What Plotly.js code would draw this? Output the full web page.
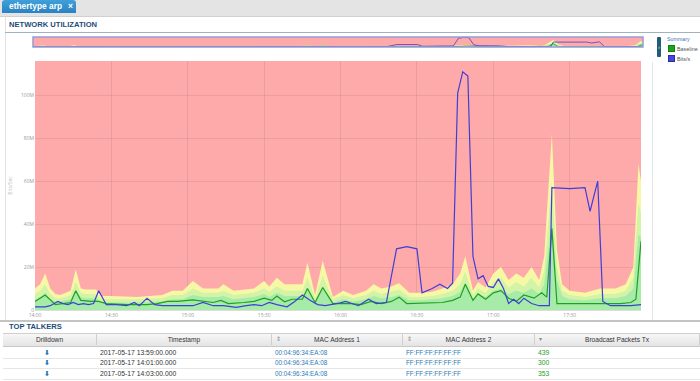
<!DOCTYPE html>
<html>
<head>
<meta charset="utf-8">
<script src="https://cdn.plot.ly/plotly-3.0.1.min.js"></script>
<style>
  html,body{margin:0;padding:0;width:700px;height:381px;overflow:hidden;background:#fff;font-family:"Liberation Sans",Arial,sans-serif;}
  #chart{position:absolute;left:0;top:0;width:700px;height:381px;}
  .abs{position:absolute;white-space:nowrap;}
  #topbar{left:0;top:0;width:700px;height:16px;background:#e4e4e4;border-bottom:1px solid #d0d0d0;}
  #tab{left:2px;top:0px;width:74px;height:13px;background:linear-gradient(#40a0da,#2a82bf);border-radius:3px 3px 0 0;color:#fff;font-weight:bold;font-size:8.4px;line-height:12px;}
  .hdr{font-weight:bold;font-size:7.6px;color:#1c4e78;}
  .th{position:absolute;top:334px;height:11px;line-height:11px;font-size:6.6px;color:#333;text-align:center;border-right:1px solid #cfcfcf;box-sizing:border-box;}
  .td{position:absolute;font-size:6.8px;line-height:10px;}
  .sort{position:absolute;font-size:6px;color:#888;line-height:11px;}
</style>
</head>
<body>
<div id="chart"></div>

<div id="topbar" class="abs"></div>
<div id="tab" class="abs"><span style="position:absolute;left:7px;">ethertype arp</span><span style="position:absolute;left:66px;">×</span></div>
<div class="abs" style="left:5px;top:17px;width:1px;height:304px;background:#e2e2e2;"></div>
<div class="abs hdr" style="left:9px;top:20px;">NETWORK UTILIZATION</div>
<div class="abs" style="left:5px;top:32px;width:695px;height:1px;background:#9fb2c2;"></div>

<!-- legend -->
<div class="abs" style="left:652px;top:62px;width:1px;height:258px;background:#e6e6e6;"></div>
<div class="abs" style="left:657px;top:37px;width:4px;height:20px;background:#1f5d78;border-radius:1px;color:#fff;font-size:5px;line-height:20px;text-align:center;">›</div>
<div class="abs" style="left:667px;top:36px;font-size:5.3px;color:#3f73b8;">Summary</div>
<div class="abs" style="left:668px;top:45px;width:5px;height:5px;background:#1aa51a;border:1px solid #118011;"></div>
<div class="abs" style="left:677px;top:45.5px;font-size:5.4px;color:#555;">Baseline</div>
<div class="abs" style="left:668px;top:55px;width:5px;height:5px;background:#4646dd;border:1px solid #2c2ca8;"></div>
<div class="abs" style="left:677px;top:55.5px;font-size:5.4px;color:#555;">Bits/s</div>

<!-- top talkers -->
<div class="abs" style="left:0px;top:320px;width:700px;height:2px;background:#c4c4c4;"></div>
<div class="abs hdr" style="left:9px;top:322px;">TOP TALKERS</div>
<div id="table"></div>

<script>
// ---------------- data (values in M bits/s) ----------------
const bandTimes = ['14:00','14:02','14:04','14:06','14:08','14:10','14:12','14:14','14:16','14:18','14:20',
  '14:24','14:26','14:30','14:40','14:50','14:54','14:58',
  '15:02','15:06','15:12','15:14','15:18','15:26','15:30','15:32','15:35','15:38','15:45','15:47','15:50','15:53','15:57',
  '16:01','16:05','16:10','16:13','16:16','16:20','16:23','16:27','16:32','16:36','16:40','16:44','16:47','16:49','16:52','16:54','16:57',
  '17:00','17:03','17:06','17:09','17:12','17:15','17:18','17:20','17:21','17:23','17:25','17:27','17:30','17:36','17:42','17:48','17:52','17:55','17:57','17:58'];
const bandUpper = [10,12,17,10,7.5,7,8,9,19,10,9.5,
  9.5,6.5,6.5,6,7,9,9,
  13.5,10,10,12,9,10,13.5,11,15,12,12,22,7,23,6,
  9,7,9,12,10,11,12.5,8,8,8.5,10,12,17,25,9,13,10.5,
  17,20,14,17,15,20,14,25,45,82,28,12,9,8,10,10,12,20,68,60];
const bandMid = [7.5,9,12,7.5,5.5,5.5,6,7,13,8,7.5,
  7.5,5,5,5,5.5,7,7,
  10,8,8,9,7,8,10,8.5,11,9,9,15,5.5,16,5,
  7,5.5,7,9,7.5,8.5,9.5,6,6,6.5,7.5,9,12,18,7,10,8,
  13,15,10.5,13,11,15,10.5,18,32,60,20,9,7,6,7.5,7.5,9,15,50,45];
const bandLower = [5,6,8,5,4,4,4.5,5,9,6,5.5,
  5.5,3.5,3.5,3.5,4,5,5,
  7,6,6,6.5,5,6,7.5,6,8,6.5,6.5,10,4,11,3.5,
  5,4,5,6.5,5.5,6,7,4.5,4.5,5,5.5,6.5,8.5,13,5,7,6,
  9,10,7.5,9,8,10,7.5,12,22,42,14,6.5,5,4.5,5.5,5.5,6.5,10,35,34];

const baselineTimes = ['14:00','14:04','14:08','14:12','14:14','14:16','14:18','14:22','14:25','14:28','14:36','14:44','14:48','14:52','14:56',
  '15:02','15:06','15:10','15:13','15:16','15:22','15:26','15:30','15:33','15:35','15:38','15:41','15:45','15:47','15:50','15:53','15:57',
  '16:04','16:08','16:12','16:16','16:20','16:23','16:26','16:35','16:40','16:44','16:47','16:49','16:52','16:54','16:57',
  '17:00','17:03','17:06','17:09','17:12','17:16','17:19','17:21','17:23','17:25','17:30','17:40','17:50','17:54','17:56','17:58'];
const baselineVals = [4,7,2.5,3,3.5,9,4.5,4,4,3,2.5,2.5,3,4,4,
  4.7,4,3.5,4.5,3,3.5,4,5.5,4.5,6.5,3.8,5,5,10,3.5,10.5,3,
  3,2.5,4,3,4,6,3,3.3,3.5,4.5,6,12,4.5,7.5,5,
  8,9,5.5,4,7,5.5,8,6,38,3,3,3,3,3.5,5,32];

const bitsTimes = ['14:00','14:04','14:06','14:09','14:11','14:13','14:15','14:17','14:19','14:21','14:23','14:25','14:28','14:32','14:36','14:39','14:41','14:44','14:47','14:50','14:58',
  '15:02','15:06','15:10','15:14','15:19','15:23','15:26','15:29','15:32','15:35','15:37','15:39','15:42','15:45','15:48','15:51','15:54','15:57',
  '16:00','16:02','16:07','16:11','16:14','16:18','16:22','16:26','16:30','16:32','16:36','16:39','16:42','16:44','16:46','16:48','16:50','16:52','16:54','16:56','16:58',
  '17:00','17:02','17:04','17:06','17:08','17:10','17:12','17:15','17:18','17:22','17:23','17:30','17:36','17:38','17:41','17:43','17:46','17:54','17:58'];
const bitsVals = [1.5,1.5,2,4,3,2.5,3.5,2.5,3,2.5,3,9,2.5,2.5,2,3.5,2,5.5,2.5,2,2,
  2,3.5,2,2,1.2,2,2.5,2,3.5,2.5,2,1.5,4,7,4.5,2.5,2,2.5,
  3.3,4,2,5,3,3.5,28.5,29.5,28.5,8,10,12,10,12.5,101,111,109,25,14.5,16,11,
  10.5,14.5,10,3,5,3,5.5,3,2,2,57,56.5,57,46,60,4,2,2,2.5];

const xTickVals = ['14:00','14:30','15:00','15:30','16:00','16:30','17:00','17:30'];
const yTickVals = [0,20,40,60,80,100];
const yTickText = ['0','20M','40M','60M','80M','100M'];

const talkerTimes = ['2017-05-17 13:59:00.000','2017-05-17 14:01:00.000','2017-05-17 14:03:00.000'];
const talkerMac1 = ['00:04:96:34:EA:08','00:04:96:34:EA:08','00:04:96:34:EA:08'];
const talkerMac2 = ['FF:FF:FF:FF:FF:FF','FF:FF:FF:FF:FF:FF','FF:FF:FF:FF:FF:FF'];
const talkerPkts = [439, 300, 353];

// ---------------- chart ----------------
const day = '2017-05-17 ';
const d = arr => arr.map(t => day + t + ':00');

const COL_UP = '#f7f8a6', COL_MID = '#d3f3a6', COL_LOW = '#a6eca8';
const COL_GREEN = '#1fa01f', COL_BLUE = '#3f3fd6';

function makeTraces(xa, ya, lw) {
  return [
    {x:d(bandTimes), y:bandUpper, type:'scatter', mode:'lines', fill:'tozeroy', fillcolor:COL_UP, line:{width:0,color:COL_UP}, xaxis:xa, yaxis:ya, hoverinfo:'skip'},
    {x:d(bandTimes), y:bandMid, type:'scatter', mode:'lines', fill:'tozeroy', fillcolor:COL_MID, line:{width:0,color:COL_MID}, xaxis:xa, yaxis:ya, hoverinfo:'skip'},
    {x:d(bandTimes), y:bandLower, type:'scatter', mode:'lines', fill:'tozeroy', fillcolor:COL_LOW, line:{width:0,color:COL_LOW}, xaxis:xa, yaxis:ya, hoverinfo:'skip'},
    {x:d(baselineTimes), y:baselineVals, name:'Baseline', type:'scatter', mode:'lines', line:{width:lw,color:COL_GREEN}, xaxis:xa, yaxis:ya},
    {x:d(bitsTimes), y:bitsVals, name:'Bits/s', type:'scatter', mode:'lines', line:{width:lw,color:COL_BLUE}, xaxis:xa, yaxis:ya}
  ];
}

const traces = makeTraces('x','y',1.2).concat(makeTraces('x2','y2',0.8));
const xr = [day+'14:00:00', day+'17:58:00'];
const GRID = 'rgba(150,110,110,0.2)';

const layout = {
  width:700, height:381,
  margin:{l:0,r:0,t:0,b:0},
  paper_bgcolor:'rgba(0,0,0,0)',
  plot_bgcolor:'#ffaaaa',
  showlegend:false,
  font:{family:'"Open Sans", "Liberation Sans", Arial, sans-serif', color:'#999'},
  xaxis:{domain:[35/700, 641/700], anchor:'y', type:'date', range:xr,
    tickvals:d(xTickVals), ticktext:xTickVals, tickfont:{size:5,color:'#999'},
    showgrid:true, gridcolor:GRID, gridwidth:1,
    showline:true, linecolor:'#dddddd', zeroline:false, ticks:'', ticklen:0},
  yaxis:{domain:[71/381, 320/381], anchor:'x', range:[0,116],
    tickvals:yTickVals, ticktext:yTickText, tickfont:{size:5,color:'#999'},
    showgrid:true, gridcolor:GRID, gridwidth:1, zeroline:false, ticks:'',
    title:{text:'Bits/Sec', font:{size:5,color:'#c0c0c0'}, standoff:8}},
  xaxis2:{domain:[33/700, 643/700], anchor:'y2', type:'date', range:xr, visible:false},
  yaxis2:{domain:[334/381, 344/381], anchor:'x2', range:[0,116], visible:false},
  shapes:[
    {type:'rect', xref:'paper', yref:'paper', x0:33/700, x1:643/700, y0:334/381, y1:344/381,
     line:{color:'#9a9ad8', width:1.5}, fillcolor:'rgba(0,0,0,0)'}
  ]
};

Plotly.newPlot('chart', traces, layout, {staticPlot:true, displayModeBar:false});

// ---------------- table ----------------
const cols = [
  {name:'Drilldown', x0:3, x1:97},
  {name:'Timestamp', x0:97, x1:272},
  {name:'MAC Address 1', x0:272, x1:403, sort:'⇕'},
  {name:'MAC Address 2', x0:403, x1:535, sort:'⇕'},
  {name:'Broadcast Packets Tx', x0:535, x1:700, sort:'▾'}
];
let html = '<div class="abs" style="left:3px;top:333px;width:697px;height:12px;background:linear-gradient(#f7f7f7,#e4e4e4);border-top:1px solid #cfcfcf;border-bottom:1px solid #c8c8c8;"></div>';
cols.forEach(c => {
  html += `<div class="th" style="left:${c.x0}px;width:${c.x1-c.x0}px;">${c.name}</div>`;
  if (c.sort) html += `<div class="sort" style="left:${c.x0+4}px;top:334px;">${c.sort}</div>`;
});
const rowY = [347.5, 358, 368.5];
for (let i = 0; i < talkerTimes.length; i++) {
  const y = rowY[i];
  html += `<div class="abs" style="left:3px;top:${y+10}px;width:697px;height:1px;background:#e6e6e6;"></div>`;
  html += `<div class="td" style="left:44px;top:${y}px;color:#2a78b8;font-family:'DejaVu Sans';font-size:7px;font-weight:bold;">⬇</div>`;
  html += `<div class="td" style="left:100px;top:${y}px;color:#333;">${talkerTimes[i]}</div>`;
  html += `<div class="td" style="left:275px;top:${y}px;color:#2a7ab8;font-size:6.3px;">${talkerMac1[i]}</div>`;
  html += `<div class="td" style="left:406px;top:${y}px;color:#2a7ab8;font-size:6.3px;">${talkerMac2[i]}</div>`;
  html += `<div class="td" style="left:538px;top:${y}px;color:#2aa02a;">${talkerPkts[i]}</div>`;
}
document.getElementById('table').innerHTML = html;
</script>
</body>
</html>
